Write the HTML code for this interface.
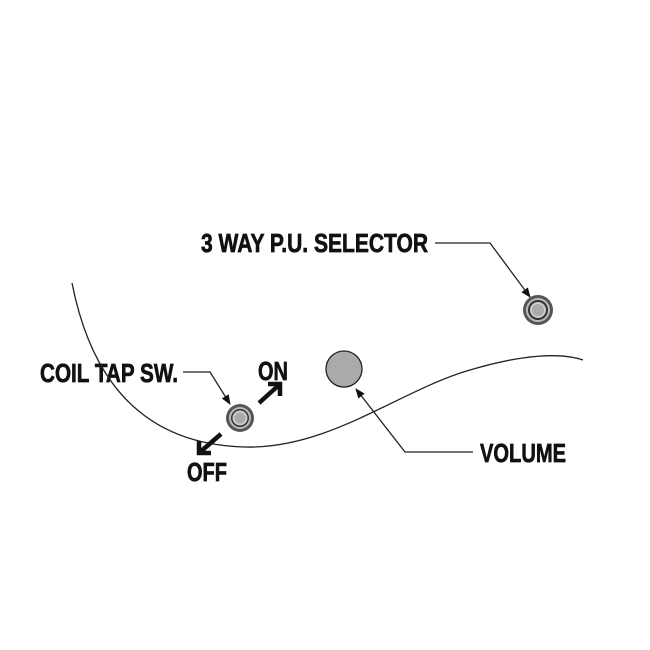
<!DOCTYPE html>
<html><head><meta charset="utf-8"><style>html,body{margin:0;padding:0;background:#fff}svg{display:block}</style></head>
<body>
<svg width="650" height="650" viewBox="0 0 650 650" xmlns="http://www.w3.org/2000/svg">
<defs>
<marker id="ah" markerWidth="10" markerHeight="8" refX="9" refY="4" orient="auto" markerUnits="userSpaceOnUse"><path d="M0,0 L10,4 L0,8 Z" fill="#111"/></marker>
</defs>
<g font-family="Liberation Sans, sans-serif" font-weight="bold" font-size="26" fill="#111" stroke="#111" stroke-width="0.7">
<text x="201" y="252" textLength="227" lengthAdjust="spacingAndGlyphs">3 WAY P.U. SELECTOR</text>
<text x="40" y="382" textLength="138" lengthAdjust="spacingAndGlyphs">COIL TAP SW.</text>
<text x="258" y="380" textLength="30" lengthAdjust="spacingAndGlyphs">ON</text>
<text x="187" y="481" textLength="40" lengthAdjust="spacingAndGlyphs">OFF</text>
<text x="480" y="462" textLength="86" lengthAdjust="spacingAndGlyphs">VOLUME</text>
</g>
<path d="M72,283 C95,400 160,445 245,447 C330,449 400,390 470,370 C520,355 560,352 583,360" fill="none" stroke="#222" stroke-width="1.3"/>
<polyline points="435,243 490,243 530,297" fill="none" stroke="#222" stroke-width="1.3" marker-end="url(#ah)"/>
<polyline points="183,372 210,372 230,404" fill="none" stroke="#222" stroke-width="1.3" marker-end="url(#ah)"/>
<polyline points="473,452 405,452 356,389" fill="none" stroke="#222" stroke-width="1.3" marker-end="url(#ah)"/>
<g>
<circle cx="538" cy="310" r="15" fill="#555"/><circle cx="538" cy="310" r="12" fill="#bbb"/><circle cx="538" cy="310" r="10" fill="#333"/><circle cx="538" cy="310" r="8" fill="#ccc"/><circle cx="538" cy="310" r="6" fill="#aaa"/>
</g>
<g>
<circle cx="240" cy="418" r="14" fill="#555"/><circle cx="240" cy="418" r="11" fill="#bbb"/><circle cx="240" cy="418" r="9" fill="#333"/><circle cx="240" cy="418" r="7.5" fill="#ccc"/><circle cx="240" cy="418" r="5.5" fill="#aaa"/>
</g>
<circle cx="344" cy="369" r="18" fill="#aaa" stroke="#222" stroke-width="1.3"/>
<g stroke="#111" stroke-width="4.5" fill="none" stroke-linecap="butt">
<line x1="259" y1="403" x2="279" y2="385"/>
<polyline points="268,384 280,384 280,396"/>
<line x1="221" y1="434" x2="199" y2="453"/>
<polyline points="199,441 199,453 211,453"/>
</g>
</svg>
</body></html>
